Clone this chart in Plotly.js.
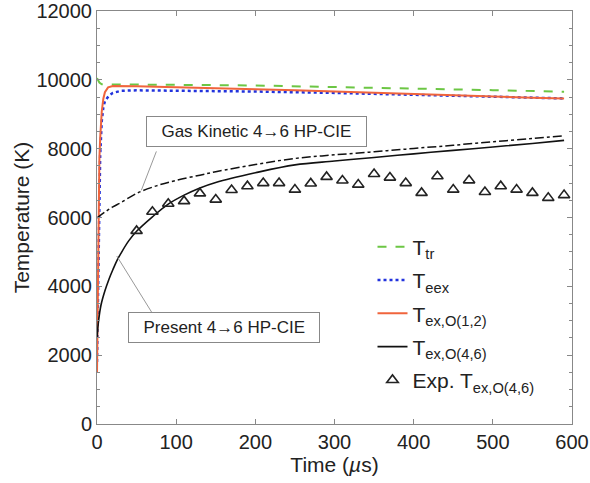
<!DOCTYPE html>
<html>
<head>
<meta charset="utf-8">
<script src="https://cdn.plot.ly/plotly-3.0.1.min.js"></script>
<style>html,body{margin:0;padding:0;background:#fff;}#chart{width:590px;height:483px;}</style>
</head>
<body>
<div id="chart"></div>
<script>
// Translational temperature
const tTr = [0, 3, 6, 20, 50, 100, 200, 300, 400, 500, 590];
const Ttr = [10050, 9920, 9870, 9865, 9862, 9855, 9835, 9800, 9745, 9700, 9655];
// Electron-electronic temperature
const tEex = [0, 1, 2, 3, 4, 6, 8, 10, 15, 20, 30, 50, 100, 200, 300, 400, 500, 590];
const Teex = [1800, 3500, 5800, 7000, 7800, 8800, 9200, 9380, 9540, 9620, 9680, 9695, 9690, 9660, 9620, 9570, 9510, 9460];
// Excitation temperature O(1,2)
const tO12 = [0, 1, 2, 3, 4, 6, 8, 10, 14, 20, 50, 100, 150, 200, 250, 300, 350, 400, 450, 500, 550, 590];
const TO12 = [1500, 4000, 6500, 7700, 8300, 9080, 9450, 9640, 9780, 9820, 9810, 9790, 9760, 9730, 9700, 9660, 9620, 9580, 9545, 9510, 9480, 9460];
// Excitation temperature O(4,6), present model
const tO46 = [0, 2, 5, 10, 15, 20, 25, 30, 40, 50, 70, 90, 110, 130, 150, 200, 250, 300, 350, 400, 450, 500, 550, 590];
const TO46 = [2500, 3000, 3450, 3870, 4200, 4480, 4740, 4950, 5320, 5600, 6020, 6390, 6650, 6860, 7020, 7300, 7530, 7640, 7745, 7850, 7950, 8050, 8150, 8240];
// Gas kinetic 4->6 HP-CIE
const tGK = [0, 10, 20, 30, 50, 75, 100, 130, 150, 200, 250, 300, 350, 400, 450, 500, 550, 590];
const TGK = [5990, 6160, 6310, 6430, 6700, 6920, 7080, 7230, 7330, 7540, 7715, 7820, 7910, 8005, 8100, 8200, 8295, 8375];
// Experiment
const tExp = [50, 70, 90, 110, 130, 150, 170, 190, 210, 230, 250, 270, 290, 310, 330, 350, 370, 390, 410, 430, 450, 470, 490, 510, 530, 550, 570, 590];
const TExp = [5610, 6165, 6400, 6475, 6700, 6520, 6800, 6910, 7000, 7000, 6810, 6990, 7180, 7075, 6955, 7265, 7160, 7000, 6715, 7200, 6810, 7080, 6740, 6910, 6810, 6715, 6570, 6650];

const font = 'Liberation Sans, Arial, Helvetica, sans-serif';

const traces = [
  {x: tTr, y: Ttr, mode: 'lines', name: 'T<sub>tr</sub>', legendgroup: 'a',
   line: {color: '#6cc644', width: 2, dash: 'dash'}},
  {x: tEex, y: Teex, mode: 'lines', name: 'T<sub>eex</sub>', legendgroup: 'b',
   line: {color: '#2233dd', width: 2.5, dash: 'dot'}},
  {x: tO12, y: TO12, mode: 'lines', name: 'T<sub>ex,O(1,2)</sub>', legendgroup: 'c',
   line: {color: '#f0643c', width: 2}},
  {x: tO46, y: TO46, mode: 'lines', name: 'T<sub>ex,O(4,6)</sub>', legendgroup: 'd',
   line: {color: '#111111', width: 1.6, shape: 'spline'}},
  {x: tGK, y: TGK, mode: 'lines', name: 'Gas Kinetic', showlegend: false,
   line: {color: '#111111', width: 1.5, dash: 'dashdot', shape: 'spline'}},
  {x: tExp, y: TExp, mode: 'markers', name: 'Exp. T<sub>ex,O(4,6)</sub>', legendgroup: 'e',
   marker: {symbol: 'triangle-up-open', size: 10, color: '#222', line: {width: 1.6, color: '#222'}}}
];

const axisCommon = {
  showline: true, linecolor: '#888', linewidth: 1, mirror: 'ticks',
  ticks: 'inside', ticklen: 5, tickcolor: '#888', showgrid: false, zeroline: false,
  tickformat: 'd', ticklabeloverflow: 'allow',
  tickfont: {family: font, size: 20, color: '#222'}
};

const layout = {
  width: 590, height: 483,
  margin: {l: 97, r: 18, t: 11, b: 59},
  paper_bgcolor: '#fff', plot_bgcolor: '#fff',
  font: {family: font, color: '#222'},
  xaxis: Object.assign({}, axisCommon, {
    range: [0, 600], dtick: 100,
    title: {text: 'Time (<i>µ</i>s)', font: {family: font, size: 21, color: '#222'}, standoff: 4}
  }),
  yaxis: Object.assign({}, axisCommon, {
    range: [0, 12000], dtick: 2000,
    minor: {dtick: 500, ticks: 'inside', ticklen: 3, tickcolor: '#888'},
    title: {text: 'Temperature (K)', font: {family: font, size: 21, color: '#222'}, standoff: 1}
  }),
  showlegend: true,
  legend: {
    x: 0.58, y: 0.478, xanchor: 'left', yanchor: 'top',
    bgcolor: 'rgba(0,0,0,0)', borderwidth: 0,
    font: {family: font, size: 21, color: '#222'},
    itemwidth: 30, tracegroupgap: 3
  },
  shapes: [
    {type: 'line', xref: 'x', yref: 'y', x0: 75, y0: 7920, x1: 56, y1: 6790,
     line: {color: '#999', width: 1}},
    {type: 'line', xref: 'x', yref: 'y', x0: 69, y0: 3250, x1: 25, y1: 4880,
     line: {color: '#999', width: 1}}
  ],
  annotations: [
    {x: 202, y: 8510, xref: 'x', yref: 'y', showarrow: false,
     text: '  Gas Kinetic 4→6 HP-CIE  ', font: {family: font, size: 17, color: '#222'},
     bgcolor: '#fff', bordercolor: '#888', borderwidth: 1, borderpad: 5},
    {x: 160, y: 2790, xref: 'x', yref: 'y', showarrow: false,
     text: '  Present 4→6 HP-CIE  ', font: {family: font, size: 17, color: '#222'},
     bgcolor: '#fff', bordercolor: '#888', borderwidth: 1, borderpad: 5}
  ]
};

Plotly.newPlot('chart', traces, layout, {staticPlot: true, displayModeBar: false});
</script>
</body>
</html>
